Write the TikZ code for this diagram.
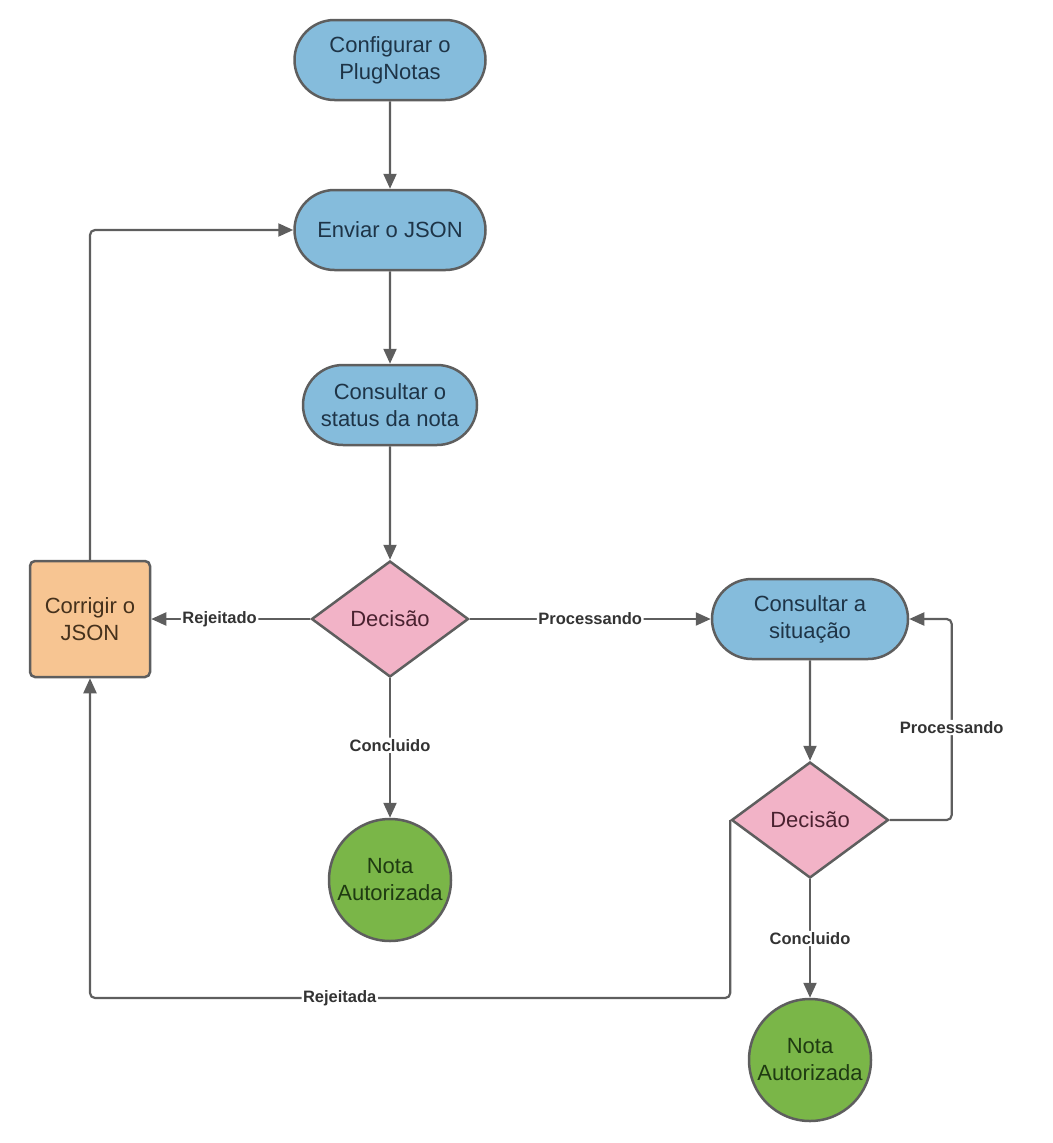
\documentclass[tikz,border=0pt]{standalone}
\usepackage{fontspec}
\setmainfont{Liberation Sans}
\usetikzlibrary{arrows.meta,positioning,shapes.geometric,shapes.misc}
\definecolor{edgeC}{HTML}{5E5E5E}
\definecolor{blueF}{HTML}{85BCDC}
\definecolor{blueT}{HTML}{1E3447}
\definecolor{pinkF}{HTML}{F2B3C7}
\definecolor{pinkT}{HTML}{4A2230}
\definecolor{orangeF}{HTML}{F7C592}
\definecolor{orangeT}{HTML}{45311C}
\definecolor{greenF}{HTML}{7AB648}
\definecolor{greenT}{HTML}{1F3B12}
\definecolor{labelT}{HTML}{333333}

\begin{document}
\begin{tikzpicture}[x=1pt,y=-1pt,
  box/.style={draw=edgeC,line width=2.5pt,align=center,font=\fontsize{22}{27}\selectfont},
  proc/.style={box,rounded rectangle,fill=blueF,text=blueT,minimum height=80pt,inner xsep=2pt},
  decide/.style={box,diamond,fill=pinkF,text=pinkT,minimum width=157pt,minimum height=116pt,inner sep=0pt},
  fix/.style={box,rectangle,rounded corners=5pt,fill=orangeF,text=orangeT,minimum width=120pt,minimum height=116pt},
  done/.style={box,circle,fill=greenF,text=greenT,minimum size=122pt,inner sep=0pt},
  lbl/.style={fill=white,text=labelT,inner sep=1.5pt,font=\fontsize{16.5}{20}\selectfont\bfseries},
  link/.style={draw=edgeC,line width=2.2pt,rounded corners=5pt},
  >={Triangle[length=15pt,width=13pt]},
  on grid
]
\useasboundingbox (0,0) rectangle (1052,1143);
\node[proc,minimum width=195pt] (conf) at (390,60) {Configurar o\\PlugNotas};
\node[proc,minimum width=195pt,below=170pt of conf] (env) {Enviar o JSON};
\node[proc,minimum width=178pt,below=175pt of env] (cons) {Consultar o\\status da nota};
\node[decide,below=214pt of cons] (dec1) {Decisão};
\node[fix,left=300pt of dec1] (corr) {Corrigir o\\JSON};
\node[done,below=261pt of dec1] (nota1) {Nota\\Autorizada};
\node[proc,minimum width=200pt,right=420pt of dec1] (sit) {Consultar a\\situação};
\node[decide,below=201pt of sit] (dec2) {Decisão};
\node[done,below=240pt of dec2] (nota2) {Nota\\Autorizada};

\draw[link,->] (conf) -- (env);
\draw[link,->] (env) -- (cons);
\draw[link,->] (cons) -- (dec1);
\draw[link,->] (dec1) -- node[lbl,pos=0.57] {Rejeitado} (corr);
\draw[link,->] (dec1) -- node[lbl] {Processando} (sit);
\draw[link,->] (dec1) -- node[lbl,pos=0.48] {Concluido} (nota1);
\draw[link,->] (corr.north) |- (env.west);
\draw[link,->] (sit) -- (dec2);
\draw[link,->] (dec2.east) -- ++(62,0) |- node[lbl,pos=0.23] {Processando} (sit.east);
\draw[link,->] (dec2) -- node[lbl] {Concluido} (nota2);
\draw[link,->] (dec2.west) -- ++(0,178) -| node[lbl,pos=0.305] {Rejeitada} (corr.south);
\end{tikzpicture}
\end{document}
